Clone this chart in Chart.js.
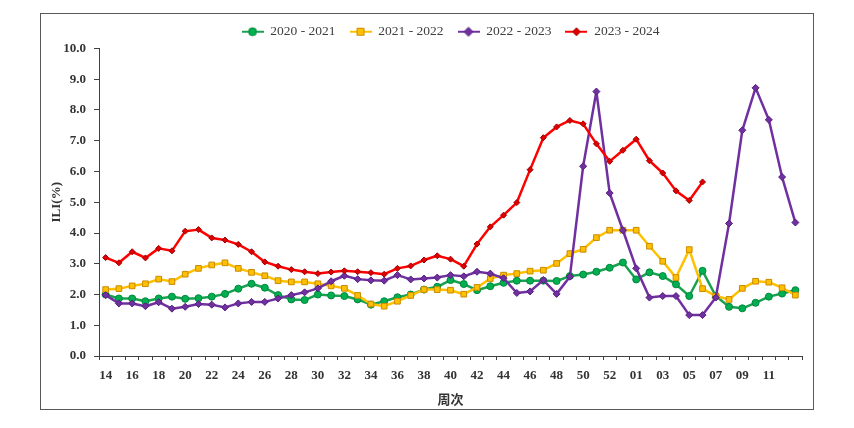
<!DOCTYPE html>
<html>
<head>
<meta charset="utf-8">
<title>ILI</title>
<script src="https://cdn.jsdelivr.net/npm/chart.js@4/dist/chart.umd.min.js"></script>
<style>
    html, body { margin: 0; padding: 0; background: #fff; }
    #wrap { width: 854px; height: 428px; }
</style>
</head>
<body>
<div id="wrap"><canvas id="iliChart" width="854" height="428"></canvas></div>
<script>
// week labels (season runs from week 14 to week 13 of next year)
const weeks = ['14','15','16','17','18','19','20','21','22','23','24','25','26','27','28','29','30','31','32','33',
    '34','35','36','37','38','39','40','41','42','43','44','45','46','47','48','49','50','51','52','53',
    '01','02','03','04','05','06','07','08','09','10','11','12','13'];

const season2020 = [2.00,1.87,1.87,1.78,1.87,1.93,1.86,1.88,1.93,2.02,2.19,2.35,2.22,1.98,1.84,1.82,2.00,1.97,1.95,1.84,
    1.67,1.78,1.91,2.00,2.16,2.25,2.47,2.34,2.14,2.27,2.38,2.45,2.45,2.45,2.44,2.60,2.65,2.74,2.87,3.04,
    2.49,2.72,2.60,2.33,1.95,2.77,1.95,1.60,1.55,1.73,1.93,2.03,2.14];

const season2021 = [2.16,2.19,2.28,2.35,2.50,2.42,2.66,2.85,2.96,3.03,2.85,2.72,2.61,2.45,2.41,2.41,2.35,2.28,2.20,1.97,
    1.69,1.62,1.78,1.97,2.16,2.16,2.14,2.01,2.23,2.52,2.63,2.68,2.76,2.79,3.01,3.33,3.47,3.85,4.09,4.09,
    4.09,3.57,3.08,2.55,3.46,2.19,1.95,1.84,2.20,2.43,2.40,2.22,1.98];

const season2022 = [1.98,1.71,1.71,1.62,1.75,1.54,1.60,1.69,1.67,1.58,1.71,1.76,1.76,1.87,1.98,2.07,2.20,2.43,2.61,2.50,
    2.46,2.45,2.63,2.49,2.52,2.55,2.63,2.59,2.74,2.68,2.53,2.05,2.10,2.47,2.02,2.58,6.17,8.60,5.30,4.09,
    2.85,1.90,1.95,1.95,1.33,1.33,1.90,4.31,7.34,8.72,7.68,5.82,4.34];

const season2023 = [3.20,3.03,3.39,3.19,3.50,3.42,4.06,4.11,3.84,3.77,3.63,3.39,3.06,2.92,2.81,2.74,2.68,2.73,2.77,2.74,
    2.71,2.66,2.85,2.93,3.12,3.26,3.15,2.92,3.64,4.20,4.58,4.99,6.06,7.10,7.45,7.66,7.55,6.90,6.33,6.69,
    7.05,6.35,5.95,5.37,5.06,5.66,null,null,null,null,null,null,null];

const seriesNames = ['2020 - 2021', '2021 - 2022', '2022 - 2023', '2023 - 2024'];

// small line + marker picture for the legend
function makeIcon(shape, line, fill, border, r) {
    const c = document.createElement('canvas');
    c.width = 22;
    c.height = 12;
    const g = c.getContext('2d');
    g.strokeStyle = line;
    g.lineWidth = 2;
    g.beginPath();
    g.moveTo(0, 6);
    g.lineTo(22, 6);
    g.stroke();
    g.fillStyle = fill;
    g.strokeStyle = border;
    g.lineWidth = 1;
    g.beginPath();
    if (shape === 'circle') {
        g.arc(11, 6, r, 0, Math.PI * 2);
    } else if (shape === 'rect') {
        g.rect(11 - r, 6 - r, r * 2, r * 2);
    } else {
        g.moveTo(11, 6 - r);
        g.lineTo(11 + r, 6);
        g.lineTo(11, 6 + r);
        g.lineTo(11 - r, 6);
        g.closePath();
    }
    g.fill();
    g.stroke();
    return c;
}

const legendIcons = [
    makeIcon('circle', '#1AA150', '#00B050', '#00873C', 4),
    makeIcon('rect', '#FFC000', '#FFC000', '#C98A00', 3.5),
    makeIcon('diamond', '#7030A0', '#7030A0', '#55207F', 4.5),
    makeIcon('diamond', '#FF0000', '#E00000', '#A00000', 4)
];

// outer frame of the figure
const framePlugin = {
    id: 'frame',
    beforeDraw(chart) {
        const ctx = chart.ctx;
        ctx.save();
        ctx.fillStyle = '#fff';
        ctx.fillRect(0, 0, chart.width, chart.height);
        ctx.strokeStyle = '#595959';
        ctx.lineWidth = 1;
        ctx.strokeRect(40.5, 13.5, 773, 396);
        ctx.restore();
    }
};

const serif = 'Liberation Serif';

new Chart(document.getElementById('iliChart').getContext('2d'), {
    type: 'line',
    data: {
        labels: weeks,
        datasets: [
            {
                label: seriesNames[0],
                data: season2020,
                borderColor: '#1AA150',
                backgroundColor: '#00B050',
                pointBorderColor: '#00873C',
                pointStyle: 'circle',
                pointRadius: 3.5,
                order: 3
            },
            {
                label: seriesNames[1],
                data: season2021,
                borderColor: '#FFC000',
                backgroundColor: '#FFC000',
                pointBorderColor: '#C98A00',
                pointStyle: 'rect',
                pointRadius: 4,
                order: 2
            },
            {
                label: seriesNames[2],
                data: season2022,
                borderColor: '#7030A0',
                backgroundColor: '#7030A0',
                pointBorderColor: '#55207F',
                pointStyle: 'rectRot',
                pointRadius: 3.5,
                order: 1
            },
            {
                label: seriesNames[3],
                data: season2023,
                borderColor: '#FF0000',
                backgroundColor: '#E00000',
                pointBorderColor: '#A00000',
                pointStyle: 'rectRot',
                pointRadius: 3,
                order: 0
            }
        ]
    },
    options: {
        responsive: false,
        animation: false,
        devicePixelRatio: 1,
        layout: { padding: { left: 40, right: 52, top: 11, bottom: 19 } },
        elements: {
            line: { borderWidth: 2.5, tension: 0, fill: false, borderJoinStyle: 'round' },
            point: { borderWidth: 1, hoverRadius: 4 }
        },
        plugins: {
            legend: {
                position: 'top',
                fullSize: false,
                labels: {
                    usePointStyle: true,
                    pointStyleWidth: 22,
                    boxHeight: 12,
                    padding: 14,
                    color: '#404040',
                    font: { family: serif, size: 13.5 },
                    sort: (a, b) => a.datasetIndex - b.datasetIndex,
                    generateLabels(chart) {
                        const items = Chart.defaults.plugins.legend.labels.generateLabels(chart);
                        items.forEach(item => { item.pointStyle = legendIcons[item.datasetIndex]; });
                        return items;
                    }
                }
            },
            tooltip: { enabled: false }
        },
        scales: {
            x: {
                offset: true,
                grid: {
                    display: true,
                    drawOnChartArea: false,
                    drawTicks: true,
                    tickLength: 4,
                    offset: true,
                    color: '#404040'
                },
                border: { color: '#404040', width: 1 },
                ticks: {
                    autoSkip: false,
                    maxRotation: 0,
                    minRotation: 0,
                    padding: 8,
                    color: '#333',
                    font: { family: serif, size: 13, weight: 'bold' },
                    callback: (v, i) => (i % 2 === 0 && i < weeks.length - 1) ? weeks[i] : ''
                },
                title: {
                    display: true,
                    text: '周次',
                    color: '#333',
                    font: { family: 'Noto Sans CJK SC', size: 13, weight: 'bold' },
                    padding: { top: 0, bottom: 2 }
                },
                afterFit(scale) { scale.height = 53; }
            },
            y: {
                min: 0,
                max: 10,
                grid: {
                    display: true,
                    drawOnChartArea: false,
                    drawTicks: true,
                    tickLength: 5,
                    color: '#404040'
                },
                border: { color: '#404040', width: 1 },
                ticks: {
                    stepSize: 1,
                    padding: 8,
                    color: '#333',
                    font: { family: serif, size: 13, weight: 'bold' },
                    callback: v => v.toFixed(1)
                },
                title: {
                    display: true,
                    text: 'ILI(%)',
                    color: '#333',
                    font: { family: serif, size: 13, weight: 'bold' },
                    padding: { top: 9, bottom: 0 }
                },
                afterFit(scale) { scale.width = 59; }
            }
        }
    },
    plugins: [framePlugin]
});
</script>
</body>
</html>
